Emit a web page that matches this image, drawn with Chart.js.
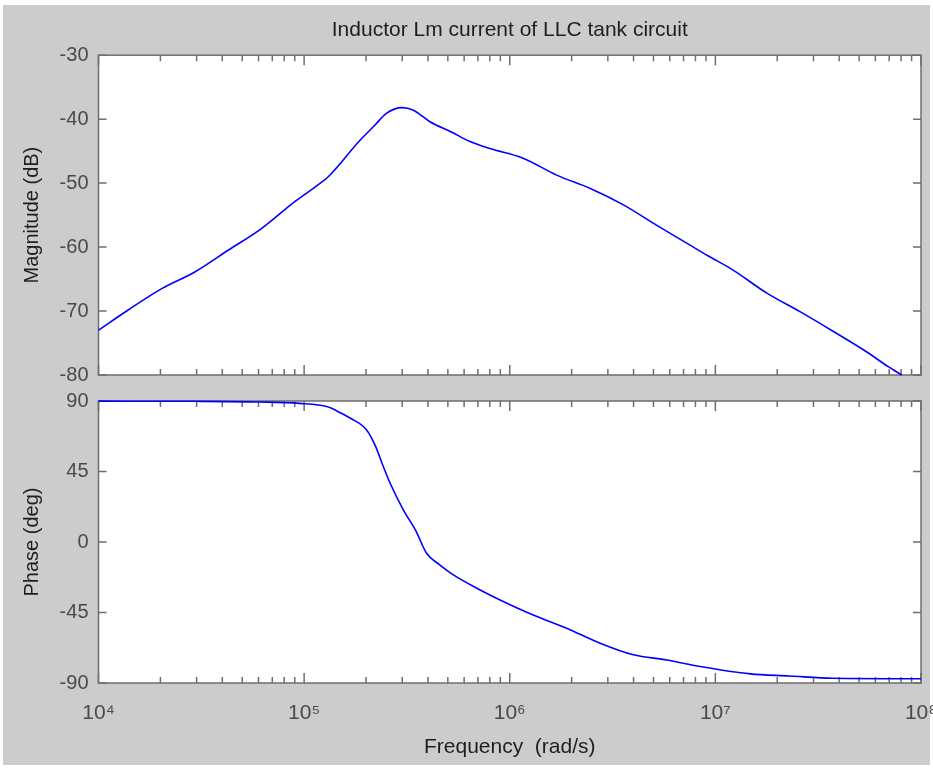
<!DOCTYPE html>
<html><head><meta charset="utf-8">
<script src="https://cdn.jsdelivr.net/npm/chart.js@4.4.1/dist/chart.umd.min.js"></script>
<style>
html,body{margin:0;padding:0;background:#fff;width:933px;height:769px;overflow:hidden}
#bg{position:absolute;left:3px;top:5px;width:927px;height:760px;background:#cccccc}
#c1{position:absolute;left:0;top:0}
#c2{position:absolute;left:0;top:390px}
</style></head><body>
<div id="bg"></div>
<canvas id="c1" width="933" height="390"></canvas>
<canvas id="c2" width="933" height="379"></canvas>
<script>
// ---- text ----
const titleText = 'Inductor Lm current of LLC tank circuit';
const magLabel = 'Magnitude (dB)';
const phaseLabel = 'Phase (deg)';
const xLabel = 'Frequency  (rad/s)';

// ---- data ----
const magFreq = [1e4, 1.4e4, 2.03e4, 2.94e4, 4.27e4, 6.2e4, 9.0e4, 1.2e5, 1.31e5, 1.87e5, 2.2e5, 2.51e5, 2.99e5, 3.4e5, 4.09e5, 5.2e5, 6.41e5, 8.02e5, 1.16e6, 1.69e6, 2.45e6, 3.57e6, 5.19e6, 7.53e6, 9.25e6, 1.22e7, 1.78e7, 2.58e7, 3.75e7, 5.45e7, 6.93e7, 8.05e7];
const magDb = [-73.0, -69.8, -66.5, -63.9, -60.5, -57.1, -52.9, -50.0, -49.0, -43.3, -41.0, -39.1, -38.2, -38.6, -40.4, -42.0, -43.5, -44.6, -46.1, -48.75, -50.8, -53.4, -56.6, -59.7, -61.4, -63.6, -67.2, -70.1, -73.2, -76.4, -78.7, -80.0];

const phaseFreq = [1e4, 3e4, 6e4, 9.5e4, 1.3e5, 1.5e5, 1.68e5, 2.0e5, 2.21e5, 2.43e5, 2.62e5, 3.04e5, 3.5e5, 3.94e5, 4.58e5, 5.32e5, 7.18e5, 8.97e5, 1.30e6, 1.89e6, 2.75e6, 3.99e6, 5.81e6, 8.43e6, 1.48e7, 2.29e7, 3.73e7, 1e8];
const phaseDeg = [89.9, 89.8, 89.4, 88.5, 86.3, 82.5, 79, 72, 62, 48, 37.5, 20.4, 7, -7.2, -14.7, -21, -30.6, -37, -46.6, -55, -64.6, -72, -75.3, -79.5, -84.2, -85.5, -87, -87.3];

// ---- ticks ----
const magTicks = [-80, -70, -60, -50, -40, -30];
const phaseTicks = [-90, -45, 0, 45, 90];
const decadeTicks = [1e4, 1e5, 1e6, 1e7, 1e8];
const decadeLabels = ['10\u2074', '10\u2075', '10\u2076', '10\u2077', '10\u2078'];
const minorMultipliers = [2, 3, 4, 5, 6, 7, 8, 9];

const allXTicks = [];
decadeTicks.forEach((d, i) => {
  allXTicks.push(d);
  if (i < decadeTicks.length - 1) minorMultipliers.forEach(m => allXTicks.push(m * d));
});

const FONT = "'Liberation Sans', Arial, sans-serif";
const TICK_COLOR = '#4a4a4a';
const TEXT_COLOR = '#1e1e1e';
const AXIS_COLOR = '#6e6e6e';

function isDecade(v) {
  return decadeTicks.some(d => Math.abs(v / d - 1) < 1e-6);
}

const boxPlugin = {
  id: 'matlabBox',
  beforeDraw(chart) {
    const a = chart.chartArea, ctx = chart.ctx;
    ctx.save();
    ctx.fillStyle = '#ffffff';
    ctx.fillRect(a.left, a.top, a.right - a.left, a.bottom - a.top);
    ctx.restore();
  },
  beforeDatasetsDraw(chart) {
    const a = chart.chartArea, ctx = chart.ctx;
    const xs = chart.scales.x, ys = chart.scales.y;
    ctx.save();
    ctx.strokeStyle = AXIS_COLOR;
    ctx.lineWidth = 1.5;
    ctx.beginPath();
    xs.ticks.forEach(t => {
      const px = xs.getPixelForValue(t.value);
      const len = isDecade(t.value) ? 10 : 6;
      ctx.moveTo(px, a.bottom); ctx.lineTo(px, a.bottom - len);
      ctx.moveTo(px, a.top); ctx.lineTo(px, a.top + len);
    });
    ys.ticks.forEach(t => {
      const py = ys.getPixelForValue(t.value);
      ctx.moveTo(a.left, py); ctx.lineTo(a.left + 8, py);
      ctx.moveTo(a.right, py); ctx.lineTo(a.right - 8, py);
    });
    ctx.stroke();
    ctx.strokeRect(a.left, a.top, a.right - a.left, a.bottom - a.top);
    ctx.restore();
  }
};

function yScale(min, max, ticks, label) {
  return {
    min: min, max: max,
    grid: { display: false, drawTicks: false },
    border: { display: false },
    afterBuildTicks: s => { s.ticks = ticks.map(v => ({ value: v })); },
    afterFit: s => { s.width = 98.5; s.paddingTop = 0; s.paddingBottom = 0; },
    ticks: { color: TICK_COLOR, font: { family: FONT, size: 20 }, padding: 10, autoSkip: false },
    title: { display: true, text: label, color: TEXT_COLOR, font: { family: FONT, size: 20 }, padding: { top: 20, bottom: 0 } }
  };
}

const lineStyle = { borderColor: '#0000ff', borderWidth: 1.6, pointRadius: 0, cubicInterpolationMode: 'monotone', fill: false, clip: 4 };

new Chart(document.getElementById('c1'), {
  type: 'line',
  data: { datasets: [Object.assign({ data: magFreq.map((f, i) => ({ x: f, y: magDb[i] })) }, lineStyle)] },
  options: {
    responsive: false, animation: false,
    layout: { padding: { left: 0, right: 12, top: 5, bottom: 15 } },
    plugins: {
      legend: { display: false }, tooltip: { enabled: false },
      title: { display: true, text: titleText, fullSize: false, color: TEXT_COLOR,
        font: { family: FONT, size: 21, weight: 'normal' }, padding: { top: 13, bottom: 12 } }
    },
    scales: {
      x: {
        type: 'logarithmic', min: 1e4, max: 1e8,
        grid: { display: false, drawTicks: false }, border: { display: false },
        ticks: { display: false, autoSkip: false },
        afterBuildTicks: s => { s.ticks = allXTicks.map(v => ({ value: v })); },
        afterFit: s => { s.height = 0; s.paddingLeft = 0; s.paddingRight = 0; }
      },
      y: yScale(-80, -30, magTicks, magLabel)
    }
  },
  plugins: [boxPlugin]
});

new Chart(document.getElementById('c2'), {
  type: 'line',
  data: { datasets: [Object.assign({ data: phaseFreq.map((f, i) => ({ x: f, y: phaseDeg[i] })) }, lineStyle)] },
  options: {
    responsive: false, animation: false,
    layout: { padding: { left: 0, right: 12, top: 11, bottom: 0 } },
    plugins: { legend: { display: false }, tooltip: { enabled: false } },
    scales: {
      x: {
        type: 'logarithmic', min: 1e4, max: 1e8,
        grid: { display: false, drawTicks: false }, border: { display: false },
        afterBuildTicks: s => { s.ticks = allXTicks.map(v => ({ value: v })); },
        afterFit: s => { s.height = 86; s.paddingLeft = 0; s.paddingRight = 0; },
        ticks: {
          autoSkip: false, maxRotation: 0, minRotation: 0, padding: 18,
          color: TICK_COLOR, font: { family: FONT, size: 21 },
          callback: (v) => { const i = decadeTicks.findIndex(d => Math.abs(v / d - 1) < 1e-6); return i >= 0 ? decadeLabels[i] : ''; }
        },
        title: { display: true, text: xLabel, color: TEXT_COLOR, font: { family: FONT, size: 21 }, padding: { top: 0, bottom: 9 } }
      },
      y: yScale(-90, 90, phaseTicks, phaseLabel)
    }
  },
  plugins: [boxPlugin]
});
</script>
</body></html>
